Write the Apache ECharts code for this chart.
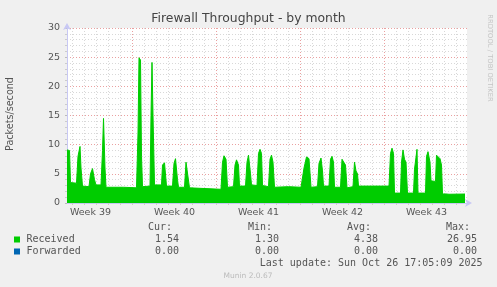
<!DOCTYPE html>
<html><head><meta charset="utf-8">
<script src="https://cdn.jsdelivr.net/npm/echarts@6/dist/echarts.min.js"></script>
<style>html,body{margin:0;padding:0;background:#f0f0f0;}#c{width:497px;height:287px;}</style>
</head><body><div id="c"></div>
<script>
// x values: hours since Mon 22 Sep 2025 00:00
const chartTitle = 'Firewall Throughput - by month';
const yAxisName = 'Packets/second';
const weekLabels = ['Week 39', 'Week 40', 'Week 41', 'Week 42', 'Week 43'];
const weekCenters = [84, 252, 420, 588, 756];
const dayLines = [48, 72, 96, 120, 144, 168, 192, 216, 240, 264, 288, 312, 336, 360, 384, 408, 432,
  456, 480, 504, 528, 552, 576, 600, 624, 648, 672, 696, 720, 744, 768, 792, 816];
const yTicks = [0, 5, 10, 15, 20, 25, 30];

const hours = [37, 42, 44, 56, 59, 63, 65, 68, 81, 84, 88, 92, 95, 105, 108, 110, 113, 115, 150, 176,
  179, 181, 184, 186, 188, 203, 205, 207, 209, 212, 226, 228, 232, 236, 248, 251, 254, 258, 260,
  272, 275, 278, 282, 284, 345, 348, 351, 355, 358, 370, 373, 376, 380, 382, 394, 397, 400, 404,
  406, 417, 420, 423, 426, 428, 440, 443, 446, 449, 452, 480, 505, 511, 516, 521, 525, 538, 541,
  545, 548, 550, 561, 564, 567, 570, 572, 584, 587, 590, 594, 597, 609, 612, 615, 618, 620, 681,
  684, 687, 690, 692, 704, 706, 709, 712, 715, 718, 730, 732, 735, 737, 739, 754, 756, 759, 763,
  765, 774, 776, 779, 783, 786, 788, 795, 797, 801, 833];
const received = [9.1, 9.0, 3.5, 3.4, 8.0, 9.7, 6.0, 2.9, 2.8, 5.0, 5.9, 4.0, 3.1, 3.1, 9.0, 14.5, 6.0, 2.7, 2.7, 2.6,
  12.0, 24.9, 24.5, 8.0, 2.8, 2.9, 15.0, 24.1, 15.0, 3.1, 3.1, 6.5, 6.9, 2.9, 2.9, 6.8, 7.6, 4.0, 2.7,
  2.7, 7.0, 7.0, 2.6, 2.35, 2.35, 7.0, 8.1, 7.5, 2.7, 2.8, 6.5, 7.4, 6.5, 2.9, 2.9, 7.0, 8.2, 5.0,
  3.1, 3.0, 8.5, 9.2, 8.5, 3.0, 2.8, 7.5, 8.2, 7.0, 2.7, 2.8, 2.7, 6.0, 7.9, 7.6, 2.7, 2.8, 6.8,
  7.7, 5.5, 2.9, 2.9, 7.5, 8.0, 7.0, 2.7, 2.7, 7.5, 7.7, 6.5, 2.6, 2.8, 7.0, 5.5, 5.0, 2.9, 2.9,
  8.5, 9.4, 8.5, 1.7, 1.7, 7.0, 9.1, 7.5, 7.0, 1.7, 1.7, 5.8, 6.0, 9.2, 1.7, 1.7, 8.0, 8.8, 7.0,
  3.8, 3.7, 8.2, 8.5, 7.6, 6.5, 1.55, 1.55, 1.45, 1.5, 1.54];

const legendNames = ['Received', 'Forwarded'];
const legendColors = ['#00cc00', '#0066b3'];
const statHeaders = ['Cur:', 'Min:', 'Avg:', 'Max:'];
const statReceived = ['1.54', '1.30', '4.38', '26.95'];
const statForwarded = ['0.00', '0.00', '0.00', '0.00'];
const lastUpdate = 'Last update: Sun Oct 26 17:05:09 2025';
const footer = 'Munin 2.0.67';
const sideText = 'RRDTOOL / TOBI OETIKER';

const chart = echarts.init(document.getElementById('c'), null, {renderer: 'canvas'});
const sans = 'DejaVu Sans';
const mono = 'DejaVu Sans Mono';
const headerRight = [172, 272, 371, 470];
const valueRight = [179, 279, 378, 477];

const graphics = [
  {type: 'text', x: 248.5, y: 19, style: {text: chartTitle, font: '12.4px "' + sans + '"', fill: '#444', align: 'center', verticalAlign: 'middle', textAlign: 'center', textVerticalAlign: 'middle'}},
  {type: 'text', x: 10.7, y: 114, rotation: Math.PI / 2, style: {text: yAxisName, font: '9.6px "' + sans + '"', fill: '#555', align: 'center', verticalAlign: 'middle', textAlign: 'center', textVerticalAlign: 'middle'}},
  {type: 'text', x: 489.5, y: 58, rotation: -Math.PI / 2, style: {text: sideText, font: '6.8px "' + sans + '"', fill: '#c4c4c4', align: 'center', verticalAlign: 'middle', textAlign: 'center', textVerticalAlign: 'middle'}},
  {type: 'text', x: 248, y: 276, style: {text: footer, font: '7.5px "' + sans + '"', fill: '#bbbbbb', align: 'center', verticalAlign: 'middle', textAlign: 'center', textVerticalAlign: 'middle'}},
  {type: 'text', x: 482.5, y: 263.5, style: {text: lastUpdate, font: '10px "' + mono + '"', fill: '#555', align: 'right', verticalAlign: 'middle', textAlign: 'right', textVerticalAlign: 'middle'}}
];
statHeaders.forEach((h, i) => graphics.push({type: 'text', x: headerRight[i], y: 227.5, style: {text: h, font: '10px "' + mono + '"', fill: '#555', align: 'right', verticalAlign: 'middle', textAlign: 'right', textVerticalAlign: 'middle'}}));
[statReceived, statForwarded].forEach((row, r) => {
  const y = 239.5 + r * 12;
  graphics.push({type: 'rect', shape: {x: 14, y: y - 3, width: 6, height: 6}, style: {fill: legendColors[r]}});
  graphics.push({type: 'text', x: 26.5, y: y, style: {text: legendNames[r], font: '10px "' + mono + '"', fill: '#555', align: 'left', verticalAlign: 'middle', textAlign: 'left', textVerticalAlign: 'middle'}});
  row.forEach((v, i) => graphics.push({type: 'text', x: valueRight[i], y: y, style: {text: v, font: '10px "' + mono + '"', fill: '#555', align: 'right', verticalAlign: 'middle', textAlign: 'right', textVerticalAlign: 'middle'}}));
});

const gray = '#d8d8d8';
const red = '#eaa0a0';
chart.setOption({
  animation: false,
  backgroundColor: '#f0f0f0',
  grid: {left: 67, right: 30, top: 28, bottom: 84, show: true, backgroundColor: '#ffffff', borderWidth: 0},
  xAxis: {
    type: 'value', min: 37, max: 837,
    axisLine: {show: true, lineStyle: {color: '#c8c8f4', width: 1}, symbol: ['none', 'arrow'], symbolSize: [6, 7], symbolOffset: [0, 5]},
    axisTick: {show: true, customValues: dayLines, length: 2, lineStyle: {color: '#cccccc'}},
    axisLabel: {show: true, customValues: weekCenters, margin: 5, color: '#555', fontFamily: sans, fontSize: 9.5,
      formatter: v => weekLabels[weekCenters.indexOf(v)] || ''},
    splitLine: {show: true, lineStyle: {color: [gray, gray, gray, gray, gray, red, gray], type: [1, 2], width: 1}},
    minorTick: {show: false}
  },
  yAxis: {
    type: 'value', min: 0, max: 30, interval: 5,
    axisLine: {show: true, lineStyle: {color: '#c8c8f4', width: 1}, symbol: ['none', 'arrow'], symbolSize: [6, 7], symbolOffset: [0, 5]},
    axisTick: {show: true, length: 2, lineStyle: {color: '#bbbbbb'}},
    axisLabel: {margin: 7, color: '#555', fontFamily: sans, fontSize: 9.5,
      formatter: v => yTicks.indexOf(v) >= 0 ? String(v) : ''},
    splitLine: {show: true, lineStyle: {color: red, type: [1, 2], width: 1}},
    minorTick: {show: true, splitNumber: 5, length: 2, lineStyle: {color: '#cccccc'}},
    minorSplitLine: {show: true, lineStyle: {color: gray, type: [1, 2], width: 1}}
  },
  series: [{
    name: legendNames[0], type: 'line', showSymbol: false, smooth: false,
    data: hours.map((h, i) => [h, received[i]]),
    lineStyle: {color: '#00cc00', width: 1},
    itemStyle: {color: '#00cc00'},
    areaStyle: {color: '#00cc00', opacity: 1},
    z: 3
  }],
  graphic: graphics
});
</script></body></html>
